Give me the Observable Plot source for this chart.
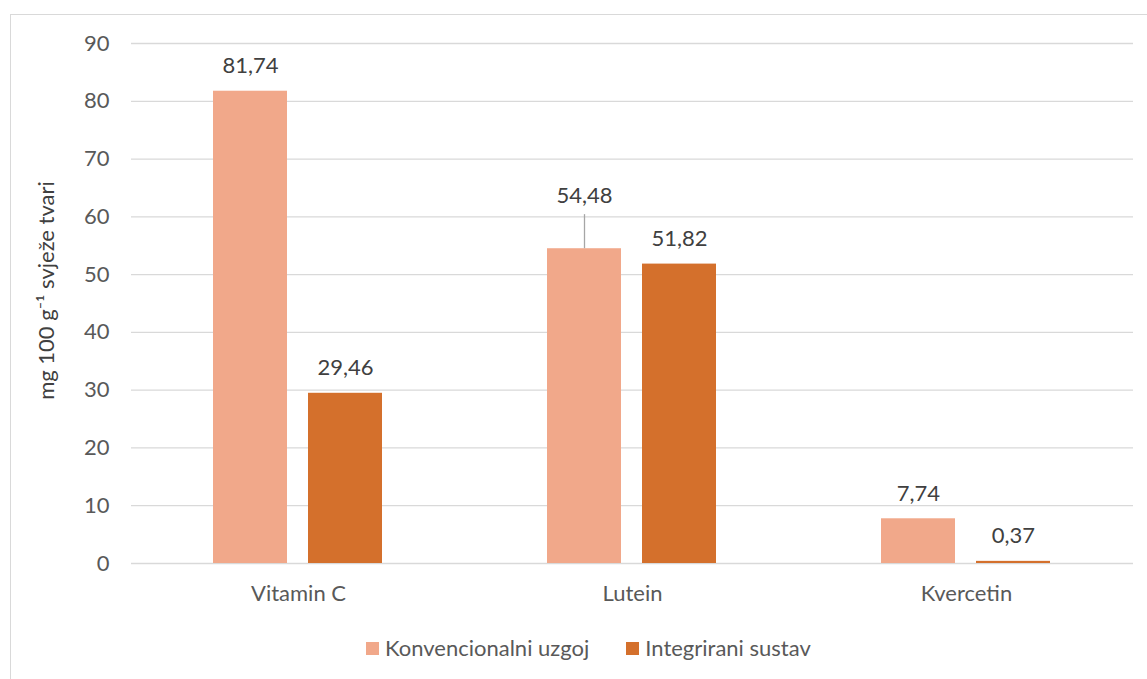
<!DOCTYPE html>
<html>
<head>
<meta charset="utf-8">
<script src="https://cdn.jsdelivr.net/npm/d3@7"></script>
<script src="https://cdn.jsdelivr.net/npm/@observablehq/plot@0.6"></script>
<style>
  body { margin: 0; background: #fff; font-family: Lato, "Open Sans", sans-serif; }
  #wrap { position: relative; width: 1147px; height: 679px; overflow: hidden; }
  #frame { position: absolute; left: 10px; top: 14px; width: 1160px; height: 700px; border: 1px solid #d9d9d9; box-sizing: border-box; pointer-events: none; }
  #chart { position: absolute; left: 0; top: 0; }
  #legend { position: absolute; left: 366px; top: 634px; display: flex; align-items: center; font-size: 22px; line-height: 28px; color: #595959; white-space: nowrap; }
  .item { display: flex; align-items: center; margin-right: 37px; }
  .sw { width: 13px; height: 13px; margin-right: 6px; }
</style>
</head>
<body>
<div id="wrap">
  <div id="chart"></div>
  <div id="frame"></div>
  <div id="legend"></div>
</div>
<script>
const categories = ["Vitamin C", "Lutein", "Kvercetin"];
const seriesNames = ["Konvencionalni uzgoj", "Integrirani sustav"];
const konvencionalni = [81.74, 54.48, 7.74];
const integrirani = [29.46, 51.82, 0.37];
const colors = ["#F1A88A", "#D4702C"];
const yTicks = [0, 10, 20, 30, 40, 50, 60, 70, 80, 90];
const yLabel = "mg 100 g⁻¹ svježe tvari";

const data = [];
categories.forEach((c, i) => {
  data.push({category: c, series: seriesNames[0], value: konvencionalni[i]});
  data.push({category: c, series: seriesNames[1], value: integrirani[i]});
});
const fmt = v => v.toFixed(2).replace(".", ",");
const isMoved = d => d.category === "Lutein" && d.series === seriesNames[0];

const chart = Plot.plot({
  width: 1147,
  height: 625,
  marginLeft: 130,
  marginRight: 14,
  marginTop: 43,
  marginBottom: 62,
  style: {fontFamily: "Lato, 'Open Sans', sans-serif", fontSize: "22px", color: "#595959", background: "transparent"},
  fx: {domain: categories, padding: 0, label: null},
  x: {domain: seriesNames, paddingInner: 0.22, paddingOuter: 0.85, axis: null},
  y: {domain: [0, 90], ticks: yTicks, label: null},
  color: {domain: seriesNames, range: colors},
  marks: [
    Plot.gridY(yTicks, {stroke: "#d9d9d9", strokeOpacity: 1, strokeWidth: 1.3}),
    Plot.axisY({ticks: yTicks, tickSize: 0, tickPadding: 22, label: null, fontSize: 22}),
    Plot.axisFx({anchor: "bottom", tickSize: 0, tickPadding: 22, label: null, fontSize: 22}),
    Plot.barY(data, {fx: "category", x: "series", y: "value", fill: "series"}),
    Plot.ruleX(data.filter(isMoved), {fx: "category", x: "series", y1: "value", y2: d => d.value + 5.9, stroke: "#a6a6a6", strokeWidth: 1.3}),
    Plot.text(data.filter(d => !isMoved(d)), {fx: "category", x: "series", y: "value", text: d => fmt(d.value), fill: "#404040", fontSize: 22, dy: -25}),
    Plot.text(data.filter(isMoved), {fx: "category", x: "series", y: "value", text: d => fmt(d.value), fill: "#404040", fontSize: 22, dy: -53}),
    Plot.text([yLabel], {frameAnchor: "left", textAnchor: "middle", dx: -85, dy: -13, rotate: -90, text: d => d, fill: "#404040", fontSize: 22, facet: "super"})
  ]
});
document.getElementById("chart").appendChild(chart);

const legend = document.getElementById("legend");
seriesNames.forEach((s, i) => {
  const it = document.createElement("div");
  it.className = "item";
  const sw = document.createElement("div");
  sw.className = "sw";
  sw.style.background = colors[i];
  const t = document.createElement("span");
  t.textContent = s;
  it.appendChild(sw);
  it.appendChild(t);
  legend.appendChild(it);
});
</script>
</body>
</html>
